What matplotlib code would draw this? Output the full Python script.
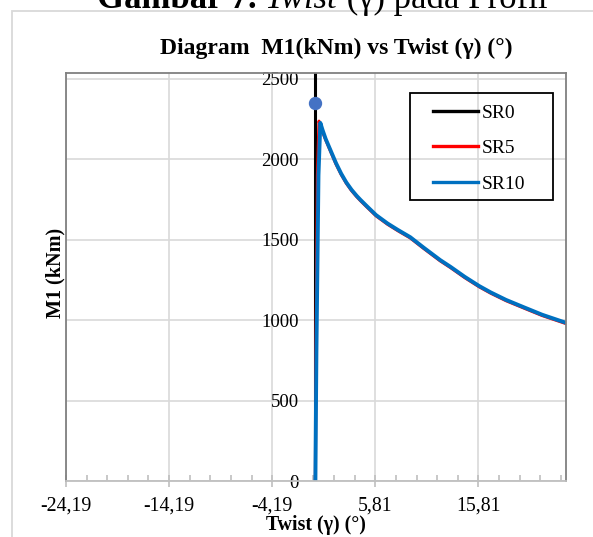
import matplotlib
matplotlib.use("Agg")
import matplotlib.pyplot as plt
from matplotlib.patches import Rectangle
from matplotlib.ticker import FixedLocator, FuncFormatter

plt.rcParams['font.family'] = ['Liberation Serif', 'DejaVu Serif']

# data
twist_sr0 = [0.0, 0.0]
m1_sr0 = [0, 3000]

twist_sr5 = [0.0, 0.05, 0.2, 0.35, 0.6, 1.0, 1.46, 2.0, 2.5, 3.0, 3.5, 4.0,
             4.37, 5.0, 5.89, 7.0, 8.0, 9.2, 10.5, 12.1, 13.1, 14.5, 15.9,
             17.0, 18.5, 20.2, 22.0, 24.4]
m1_sr5 = [0, 800, 1900, 2236, 2185, 2120, 2050, 1969, 1905, 1850, 1805, 1767,
          1742, 1702, 1647, 1595, 1555, 1510, 1445, 1368, 1326, 1263, 1206,
          1167, 1120, 1075, 1028, 976]

twist_sr10 = [0.0, 0.1, 0.3, 0.48, 0.7, 1.0, 1.46, 2.0, 2.5, 3.0, 3.5, 4.0,
              4.37, 5.0, 5.89, 7.0, 8.0, 9.2, 10.5, 12.1, 13.1, 14.5, 15.9,
              17.0, 18.5, 20.2, 22.0, 24.4]
m1_sr10 = [0, 800, 1900, 2225, 2180, 2125, 2056, 1975, 1910, 1855, 1810, 1772,
           1747, 1707, 1652, 1600, 1560, 1515, 1450, 1373, 1331, 1268, 1211,
           1172, 1125, 1080, 1033, 981]

point_twist = [0.0]
point_m1 = [2350]

legend_labels = ['SR0', 'SR5', 'SR10']
x_ticks = [-24.19, -14.19, -4.19, 5.81, 15.81]
y_ticks = [0, 500, 1000, 1500, 2000, 2500]

fig = plt.figure(figsize=(5.93, 5.37), dpi=100)

# chart frame (extends beyond the picture)
fig.patches.append(Rectangle((11.7 / 593, -0.1), 1.2, 1.1 - 11 / 537,
                             transform=fig.transFigure, fill=False,
                             edgecolor='#d9d9d9', linewidth=1.3))

ax = fig.add_axes([66 / 593, 1 - 481 / 537, 500 / 593, 408 / 537])

ax.plot(twist_sr0, m1_sr0, color='black', linewidth=2.2, label=legend_labels[0])
ax.plot(twist_sr5, m1_sr5, color='#ff0000', linewidth=2.2, label=legend_labels[1])
ax.plot(twist_sr10, m1_sr10, color='#0070c0', linewidth=2.8, label=legend_labels[2])
ax.plot(point_twist, point_m1, 'o', color='#4472c4', markersize=8.6)

ax.set_xlim(-24.19, 24.31)
ax.set_ylim(0, 2535)

ax.xaxis.set_major_locator(FixedLocator(x_ticks))
ax.xaxis.set_minor_locator(FixedLocator([-24.19 + 2 * i for i in range(25)]))
ax.xaxis.set_major_formatter(FuncFormatter(lambda v, p: f"{v:.2f}".replace('.', ',')))
ax.yaxis.set_major_locator(FixedLocator(y_ticks))

ax.grid(True, which='major', color='#d9d9d9', linewidth=1.2)
ax.set_axisbelow(True)

# vertical axis crosses at twist = 0
ax.spines['left'].set_position(('data', 0))
ax.spines['left'].set_visible(False)
ax.plot([0, 0], [0, 1], transform=ax.transAxes, color='#808080',
        linewidth=1.3, clip_on=False)
for s in ['top', 'right']:
    ax.spines[s].set_color('#808080')
    ax.spines[s].set_linewidth(1.3)
ax.spines['bottom'].set_color('#bfbfbf')
ax.spines['bottom'].set_linewidth(1.3)

ax.tick_params(axis='y', length=0, pad=12, labelsize=13.5)
ax.tick_params(axis='x', which='major', direction='inout', length=8,
               color='#bfbfbf', width=1.2, pad=7, labelsize=14.3)
ax.tick_params(axis='x', which='minor', direction='in', length=4,
               color='#bfbfbf', width=1.2)

ax.set_xlabel('Twist (γ) (°)', fontsize=14.3, fontweight='bold', labelpad=0)
ax.set_ylabel('M1 (kNm)', fontsize=14.5, fontweight='bold')
ax.yaxis.set_label_coords(-1 / 500, 0.5 + 4 / 408, transform=ax.transAxes)

leg = ax.legend(loc='upper left', bbox_to_anchor=(433 / 593, 1 - 104 / 537),
                bbox_transform=fig.transFigure, fontsize=14, frameon=False,
                handlelength=2.3, labelspacing=0.92, borderpad=0,
                handletextpad=0.2, borderaxespad=0)
for ln in leg.get_lines():
    ln.set_linewidth(2.4)
fig.patches.append(Rectangle((410 / 593, 1 - 200 / 537), 143 / 593, 107 / 537,
                             transform=fig.transFigure, fill=False,
                             edgecolor='black', linewidth=1.3))

fig.text(336 / 593, 1 - 48 / 537, 'Diagram  M1(kNm) vs Twist (γ) (°)',
         ha='center', va='center', fontsize=17, fontweight='bold')

# page caption cut at the top of the picture
fig.canvas.draw()
renderer = fig.canvas.get_renderer()
parts = [('Gambar 7. ', 'normal', 'bold'), ('Twist', 'italic', 'normal'),
         (' (γ) pada Profil', 'normal', 'normal')]
texts = []
for s, st, wt in parts:
    t = fig.text(0, 1 - 8 / 537, s, fontsize=25, style=st, weight=wt,
                 va='baseline', ha='left')
    texts.append(t)
widths = [t.get_window_extent(renderer).width for t in texts]
x0 = 322 - sum(widths) / 2
for t, w in zip(texts, widths):
    t.set_x(x0 / 593)
    x0 += w

fig.savefig('out.png', dpi=100)
